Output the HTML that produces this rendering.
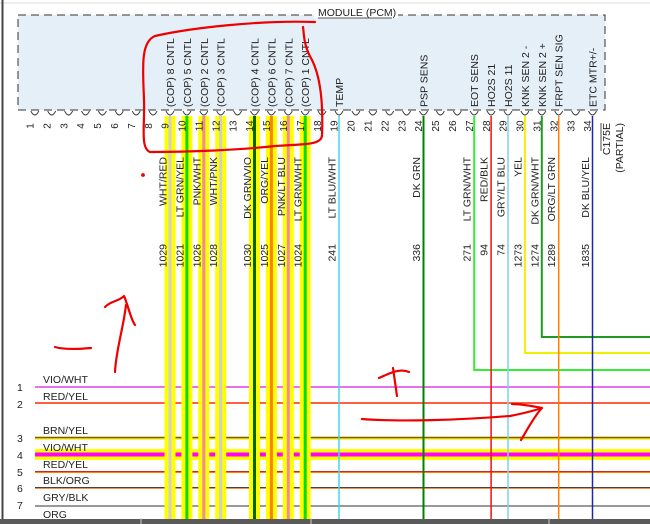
<!DOCTYPE html>
<html><head><meta charset="utf-8"><style>
html,body{margin:0;padding:0;background:#fff;}
svg{display:block;font-family:"Liberation Sans",Arial,sans-serif;}
</style></head><body>
<svg width="650" height="524" viewBox="0 0 650 524" xmlns="http://www.w3.org/2000/svg">
<rect width="650" height="524" fill="#fff"/>
<line x1="0" y1="3" x2="650" y2="3" stroke="#ddd" stroke-width="1"/>
<line x1="2.5" y1="0" x2="2.5" y2="524" stroke="#444" stroke-width="2"/>
<!-- module box -->
<rect x="18" y="15" width="587" height="95" fill="#e4eff8" stroke="#333" stroke-width="1" stroke-dasharray="8,5"/>
<rect x="314" y="8" width="84" height="10" fill="#fff"/>
<text x="318" y="16" font-size="10.5" fill="#222">MODULE (PCM)</text>
<line x1="318" y1="18" x2="392" y2="18" stroke="#222" stroke-width="0.8"/>

<!-- horizontal lines (under verticals) -->
<g>
<line x1="35" y1="387" x2="650" y2="387" stroke="#e040e8" stroke-width="1.5"/>
<line x1="35" y1="403" x2="650" y2="403" stroke="#ff2a00" stroke-width="1.5"/>
<line x1="35" y1="438" x2="650" y2="438" stroke="#e8d800" stroke-width="3"/>
<line x1="35" y1="437.5" x2="650" y2="437.5" stroke="#7a5a10" stroke-width="1.2"/>
<rect x="35" y="449" width="615" height="11" fill="#ffff00"/>
<line x1="35" y1="454.5" x2="650" y2="454.5" stroke="#ff00ff" stroke-width="4"/>
<line x1="35" y1="472" x2="650" y2="472" stroke="#ff8000" stroke-width="2"/>
<line x1="35" y1="471.5" x2="650" y2="471.5" stroke="#e02020" stroke-width="1"/>
<line x1="35" y1="488" x2="650" y2="488" stroke="#ff8c40" stroke-width="2"/>
<line x1="35" y1="487.5" x2="650" y2="487.5" stroke="#444" stroke-width="1"/>
<line x1="35" y1="506" x2="650" y2="506" stroke="#999" stroke-width="2"/>
</g>
<g font-size="10.5" fill="#222">
<text x="43" y="383">VIO/WHT</text><text x="17" y="391">1</text>
<text x="43" y="400">RED/YEL</text><text x="17" y="408">2</text>
<text x="43" y="434">BRN/YEL</text><text x="17" y="442">3</text>
<text x="43" y="451">VIO/WHT</text><text x="17" y="459">4</text>
<text x="43" y="468">RED/YEL</text><text x="17" y="476">5</text>
<text x="43" y="484">BLK/ORG</text><text x="17" y="492">6</text>
<text x="43" y="501">GRY/BLK</text><text x="17" y="509">7</text>
<text x="43" y="518">ORG</text>
</g>

<!-- yellow-band wires -->
<g>
<rect x="164.5" y="116" width="11" height="404" fill="#ffff00"/><rect x="168.5" y="116" width="3" height="404" fill="#cfcfcf"/>
<rect x="181.4" y="116" width="11" height="404" fill="#ffff00"/><rect x="185.4" y="116" width="3" height="404" fill="#00dd00"/>
<rect x="198.3" y="116" width="11" height="404" fill="#ffff00"/><rect x="202.3" y="116" width="3" height="404" fill="#f08aa0"/>
<rect x="215.2" y="116" width="11" height="404" fill="#ffff00"/><rect x="219.2" y="116" width="3" height="404" fill="#cfcfcf"/>
<rect x="249" y="116" width="11" height="404" fill="#ffff00"/><rect x="253" y="116" width="3" height="404" fill="#006600"/>
<rect x="265.9" y="116" width="11" height="404" fill="#ffff00"/><rect x="269.9" y="116" width="3" height="404" fill="#ff8000"/>
<rect x="282.8" y="116" width="11" height="404" fill="#ffff00"/><rect x="286.8" y="116" width="3" height="404" fill="#f08aa0"/>
<rect x="299.7" y="116" width="11" height="404" fill="#ffff00"/><rect x="303.7" y="116" width="3" height="404" fill="#00dd00"/>
</g>
<g fill="none" stroke-width="1.5">
<line x1="339" y1="116" x2="339" y2="520" stroke="#40d8e8"/>
<line x1="423.5" y1="116" x2="423.5" y2="520" stroke="#008000" stroke-width="2"/>
<polyline points="474.2,116 474.2,370 650,370" stroke="#33ee33" stroke-width="2"/>
<line x1="491.1" y1="116" x2="491.1" y2="520" stroke="#ee1111"/>
<line x1="508" y1="116" x2="508" y2="520" stroke="#80d0e8"/>
<polyline points="524.9,116 524.9,353 650,353" stroke="#f0f000" stroke-width="2"/>
<polyline points="541.8,116 541.8,337 650,337" stroke="#229922" stroke-width="2"/>
<line x1="558.7" y1="116" x2="558.7" y2="520" stroke="#ff8000"/>
<line x1="592.5" y1="116" x2="592.5" y2="520" stroke="#1a2aa0"/>
</g>

<!-- pin cups -->
<g fill="none" stroke="#333" stroke-width="0.9">
<path d="M30.8,111 Q34.8,119 38.8,111M47.7,111 Q51.7,119 55.7,111M64.6,111 Q68.6,119 72.6,111M81.5,111 Q85.5,119 89.5,111M98.4,111 Q102.4,119 106.4,111M115.3,111 Q119.3,119 123.3,111M132.2,111 Q136.2,119 140.2,111M149.1,111 Q153.1,119 157.1,111M166,111 Q170,119 174,111M182.9,111 Q186.9,119 190.9,111M199.8,111 Q203.8,119 207.8,111M216.7,111 Q220.7,119 224.7,111M233.6,111 Q237.6,119 241.6,111M250.5,111 Q254.5,119 258.5,111M267.4,111 Q271.4,119 275.4,111M284.3,111 Q288.3,119 292.3,111M301.2,111 Q305.2,119 309.2,111M318.1,111 Q322.1,119 326.1,111M335,111 Q339,119 343,111M351.9,111 Q355.9,119 359.9,111M368.8,111 Q372.8,119 376.8,111M385.7,111 Q389.7,119 393.7,111M402.6,111 Q406.6,119 410.6,111M419.5,111 Q423.5,119 427.5,111M436.4,111 Q440.4,119 444.4,111M453.3,111 Q457.3,119 461.3,111M470.2,111 Q474.2,119 478.2,111M487.1,111 Q491.1,119 495.1,111M504,111 Q508,119 512,111M520.9,111 Q524.9,119 528.9,111M537.8,111 Q541.8,119 545.8,111M554.7,111 Q558.7,119 562.7,111M571.6,111 Q575.6,119 579.6,111M588.5,111 Q592.5,119 596.5,111"/>
</g>

<!-- pin numbers -->
<g font-size="10" fill="#222" text-anchor="middle">
<text transform="translate(33.5,126) rotate(-90)">1</text>
<text transform="translate(50.4,126) rotate(-90)">2</text>
<text transform="translate(67.3,126) rotate(-90)">3</text>
<text transform="translate(84.2,126) rotate(-90)">4</text>
<text transform="translate(101.1,126) rotate(-90)">5</text>
<text transform="translate(118,126) rotate(-90)">6</text>
<text transform="translate(134.9,126) rotate(-90)">7</text>
<text transform="translate(151.8,126) rotate(-90)">8</text>
<text transform="translate(168.7,126) rotate(-90)">9</text>
<text transform="translate(185.6,126) rotate(-90)">10</text>
<text transform="translate(202.5,126) rotate(-90)">11</text>
<text transform="translate(219.4,126) rotate(-90)">12</text>
<text transform="translate(236.3,126) rotate(-90)">13</text>
<text transform="translate(253.2,126) rotate(-90)">14</text>
<text transform="translate(270.1,126) rotate(-90)">15</text>
<text transform="translate(287,126) rotate(-90)">16</text>
<text transform="translate(303.9,126) rotate(-90)">17</text>
<text transform="translate(320.8,126) rotate(-90)">18</text>
<text transform="translate(337.7,126) rotate(-90)">19</text>
<text transform="translate(354.6,126) rotate(-90)">20</text>
<text transform="translate(371.5,126) rotate(-90)">21</text>
<text transform="translate(388.4,126) rotate(-90)">22</text>
<text transform="translate(405.3,126) rotate(-90)">23</text>
<text transform="translate(422.2,126) rotate(-90)">24</text>
<text transform="translate(439.1,126) rotate(-90)">25</text>
<text transform="translate(456,126) rotate(-90)">26</text>
<text transform="translate(472.9,126) rotate(-90)">27</text>
<text transform="translate(489.8,126) rotate(-90)">28</text>
<text transform="translate(506.7,126) rotate(-90)">29</text>
<text transform="translate(523.6,126) rotate(-90)">30</text>
<text transform="translate(540.5,126) rotate(-90)">31</text>
<text transform="translate(557.4,126) rotate(-90)">32</text>
<text transform="translate(574.3,126) rotate(-90)">33</text>
<text transform="translate(591.2,126) rotate(-90)">34</text>
</g>

<!-- box labels -->
<g font-size="10.5" fill="#222">
<text transform="translate(174,107) rotate(-90)">(COP) 8 CNTL</text>
<text transform="translate(190.9,107) rotate(-90)">(COP) 5 CNTL</text>
<text transform="translate(207.8,107) rotate(-90)">(COP) 2 CNTL</text>
<text transform="translate(224.7,107) rotate(-90)">(COP) 3 CNTL</text>
<text transform="translate(258.5,107) rotate(-90)">(COP) 4 CNTL</text>
<text transform="translate(275.4,107) rotate(-90)">(COP) 6 CNTL</text>
<text transform="translate(292.3,107) rotate(-90)">(COP) 7 CNTL</text>
<text transform="translate(309.2,107) rotate(-90)">(COP) 1 CNTL</text>
<text transform="translate(343,107) rotate(-90)">TEMP</text>
<text transform="translate(427.5,107) rotate(-90)">PSP SENS</text>
<text transform="translate(478.2,107) rotate(-90)">EOT SENS</text>
<text transform="translate(495.1,107) rotate(-90)">HO2S 21</text>
<text transform="translate(512,107) rotate(-90)">HO2S 11</text>
<text transform="translate(528.9,107) rotate(-90)">KNK SEN 2 -</text>
<text transform="translate(545.8,107) rotate(-90)">KNK SEN 2 +</text>
<text transform="translate(562.7,107) rotate(-90)">FRPT SEN SIG</text>
<text transform="translate(596.5,107) rotate(-90)">ETC MTR+/-</text>
</g>

<!-- wire labels -->
<g font-size="10.5" fill="#222" text-anchor="end">
<text transform="translate(166.5,157) rotate(-90)">WHT/RED</text>
<text transform="translate(183.4,157) rotate(-90)">LT GRN/YEL</text>
<text transform="translate(200.3,157) rotate(-90)">PNK/WHT</text>
<text transform="translate(217.2,157) rotate(-90)">WHT/PNK</text>
<text transform="translate(251,157) rotate(-90)">DK GRN/VIO</text>
<text transform="translate(267.9,157) rotate(-90)">ORG/YEL</text>
<text transform="translate(284.8,157) rotate(-90)">PNK/LT BLU</text>
<text transform="translate(301.7,157) rotate(-90)">LT GRN/WHT</text>
<text transform="translate(335.5,157) rotate(-90)">LT BLU/WHT</text>
<text transform="translate(420,157) rotate(-90)">DK GRN</text>
<text transform="translate(470.7,157) rotate(-90)">LT GRN/WHT</text>
<text transform="translate(487.6,157) rotate(-90)">RED/BLK</text>
<text transform="translate(504.5,157) rotate(-90)">GRY/LT BLU</text>
<text transform="translate(521.4,157) rotate(-90)">YEL</text>
<text transform="translate(538.3,157) rotate(-90)">DK GRN/WHT</text>
<text transform="translate(555.2,157) rotate(-90)">ORG/LT GRN</text>
<text transform="translate(589,157) rotate(-90)">DK BLU/YEL</text>

<text transform="translate(166.5,244) rotate(-90)">1029</text>
<text transform="translate(183.4,244) rotate(-90)">1021</text>
<text transform="translate(200.3,244) rotate(-90)">1026</text>
<text transform="translate(217.2,244) rotate(-90)">1028</text>
<text transform="translate(251,244) rotate(-90)">1030</text>
<text transform="translate(267.9,244) rotate(-90)">1025</text>
<text transform="translate(284.8,244) rotate(-90)">1027</text>
<text transform="translate(301.7,244) rotate(-90)">1024</text>
<text transform="translate(335.5,244) rotate(-90)">241</text>
<text transform="translate(420,244) rotate(-90)">336</text>
<text transform="translate(470.7,244) rotate(-90)">271</text>
<text transform="translate(487.6,244) rotate(-90)">94</text>
<text transform="translate(504.5,244) rotate(-90)">74</text>
<text transform="translate(521.4,244) rotate(-90)">1273</text>
<text transform="translate(538.3,244) rotate(-90)">1274</text>
<text transform="translate(555.2,244) rotate(-90)">1289</text>
<text transform="translate(589,244) rotate(-90)">1835</text>

<text transform="translate(610,123) rotate(-90)">C175E</text>
<text transform="translate(623,123) rotate(-90)">(PARTIAL)</text>
</g>
<line x1="601" y1="123" x2="601" y2="151" stroke="#222" stroke-width="0.8"/>

<!-- red annotations -->
<g fill="none" stroke="#ee0000" stroke-width="2.2" stroke-linecap="round" stroke-linejoin="round">
<path d="M315,22 C260,20 190,28 155,36 C140,42 143,70 144,100 C145,125 140,148 150,152 C190,152 240,150 275,146 C300,144 322,146 322,135 C323,110 322,80 312,60 C303,45 304,32 303,27"/>
<path d="M115,372 C116,350 123,330 126,305 M105,307 C112,300 118,302 124,296 C128,305 131,320 135,325"/>
<path d="M55,347 C65,350 80,349 91,348"/>
<path d="M379,378 C390,373 400,368 409,372 M393,368 L397,396"/>
<path d="M362,419 C400,422 460,420 510,416 C520,414 530,412 542,408 C535,415 527,430 521,440 M512,404 C522,404 532,406 542,408"/>
<circle cx="143" cy="175" r="0.8" fill="#ee0000"/>
</g>

<!-- bottom bar -->
<rect x="0" y="519" width="650" height="5" fill="#5a5a5a"/>
<line x1="141" y1="518" x2="141" y2="524" stroke="#ccc"/>
<line x1="311" y1="518" x2="311" y2="524" stroke="#ccc"/>
<line x1="549" y1="518" x2="549" y2="524" stroke="#ccc"/>
</svg>
</body></html>
